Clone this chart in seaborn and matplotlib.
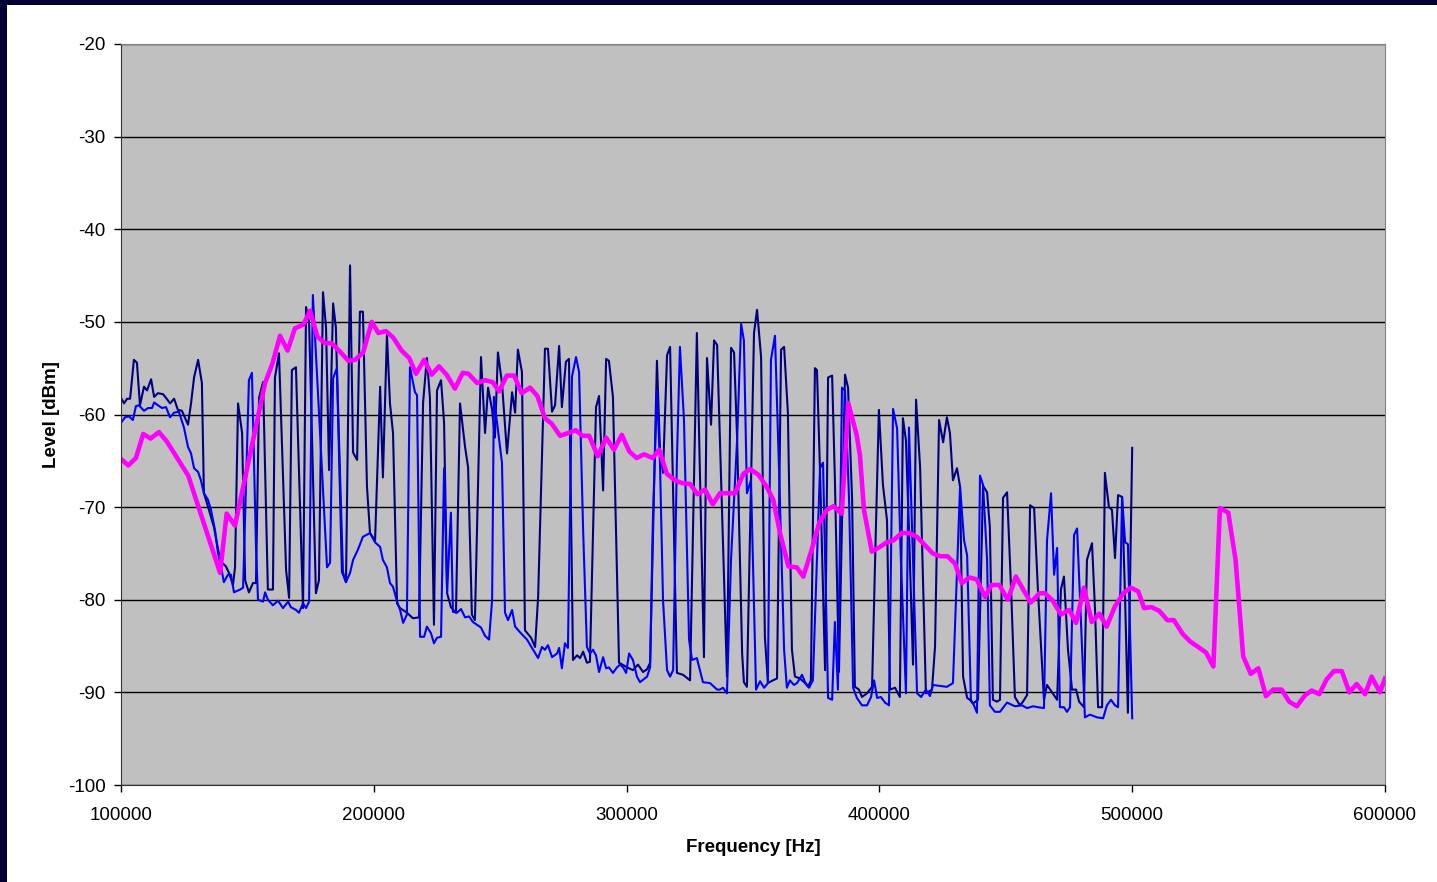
import pandas as pd
import matplotlib.pyplot as plt
import seaborn as sns
from matplotlib.patches import Rectangle

# navy trace
freq_a = [100000, 101200, 102400, 103600, 105100, 106300, 107500, 109100, 110300, 111900,
          113100, 114600, 116600, 117800, 119400, 121000, 122500, 124100, 126500, 127700,
          128900, 130500, 132000, 132800, 134800, 136800, 138400, 139600, 141500, 142700,
          144300, 145100, 146300, 147900, 149100, 150600, 152200, 153400, 154600, 156200,
          158100, 160100, 160900, 162500, 165300, 166500, 167600, 169200, 172000, 173200,
          174400, 177100, 178300, 179900, 181100, 182300, 183900, 185000, 187400, 189000,
          190600, 191800, 193400, 194500, 195700, 197300, 198500, 200500, 202500, 203600,
          205200, 206400, 207600, 209200, 210400, 213100, 215500, 217900, 219500, 221000,
          222200, 223800, 225000, 226600, 227800, 229000, 230500, 232500, 234100, 236100,
          237300, 238800, 240000, 242400, 244000, 245200, 246800, 247900, 249100, 250700,
          252700, 254700, 255900, 257000, 258600, 259800, 262200, 263800, 265000, 267700,
          268900, 270500, 271700, 273300, 274400, 276000, 277200, 278800, 280400, 281600,
          282800, 284300, 285500, 287900, 289100, 290700, 291900, 293000, 294600, 297000,
          300200, 302500, 304500, 306500, 308100, 309300, 312000, 313200, 314400, 316000,
          317200, 319900, 322300, 325100, 327800, 330600, 331800, 333400, 334600, 335800,
          339700, 341300, 342500, 343700, 345700, 346400, 347600, 350400, 351600, 353200,
          354700, 355900, 357900, 359500, 361100, 362300, 363800, 365400, 366600, 368600,
          370600, 371800, 372900, 374500, 375300, 376500, 378500, 379700, 381300, 382400,
          384000, 386400, 387600, 389200, 390300, 391900, 393100, 395100, 397100, 398300,
          399800, 401400, 403000, 404200, 406200, 408100, 409300, 410500, 411700, 413300,
          414500, 416100, 418400, 420800, 422000, 423600, 425200, 426700, 427900, 429100,
          430700, 431900, 433100, 434700, 435800, 437000, 439000, 441000, 442600, 443700,
          444900, 446500, 447700, 448900, 450500, 452100, 453600, 455600, 456800, 458400,
          459600, 461200, 462700, 465100, 466300, 468300, 470300, 471800, 473000, 474600,
          476200, 477800, 479000, 480900, 482100, 484100, 485300, 486500, 488100, 489200,
          490800, 492000, 493200, 494400, 496000, 497200, 498300, 500000]
level_a = [-58.2, -58.8, -58.3, -58.3, -54.1, -54.4, -59.0, -57.0, -57.4, -56.2,
           -58.1, -57.7, -57.8, -58.2, -58.8, -58.3, -59.5, -59.6, -61.1, -58.8,
           -56.0, -54.1, -56.6, -68.5, -70.3, -72.2, -74.6, -75.9, -76.4, -77.1,
           -78.4, -76.5, -58.8, -62.0, -77.9, -79.2, -78.2, -78.2, -58.2, -56.5,
           -78.9, -78.9, -56.0, -53.4, -76.8, -79.8, -55.2, -54.9, -80.9, -48.4,
           -50.0, -79.3, -77.9, -46.8, -50.6, -66.0, -48.0, -50.6, -77.0, -78.1,
           -43.9, -64.1, -64.9, -48.9, -48.9, -67.8, -72.8, -73.6, -57.0, -66.8,
           -51.4, -58.8, -62.0, -80.4, -80.9, -81.4, -82.0, -81.9, -58.7, -53.9,
           -58.2, -82.7, -57.4, -56.3, -60.9, -79.3, -80.8, -81.4, -58.8, -63.5,
           -65.7, -81.6, -82.2, -53.8, -62.0, -57.1, -59.5, -62.5, -53.3, -56.6,
           -64.2, -57.6, -59.8, -53.0, -55.4, -83.3, -84.1, -85.1, -79.7, -52.9,
           -52.9, -59.7, -59.0, -52.6, -59.2, -54.3, -54.0, -86.5, -86.0, -86.3,
           -85.6, -86.8, -86.7, -59.2, -58.0, -68.2, -54.0, -54.2, -58.1, -86.8,
           -87.3, -87.6, -87.0, -87.8, -87.5, -86.8, -54.2, -63.8, -66.3, -53.6,
           -52.7, -87.9, -88.1, -88.7, -51.2, -86.2, -53.9, -61.1, -52.0, -52.5,
           -88.3, -52.8, -53.3, -62.4, -85.8, -88.9, -89.4, -51.2, -48.7, -53.8,
           -84.0, -89.0, -88.7, -88.5, -53.0, -52.7, -59.8, -85.4, -88.3, -88.5,
           -89.0, -89.4, -88.7, -55.0, -55.2, -66.0, -87.6, -56.0, -55.8, -67.1,
           -87.8, -55.7, -57.1, -69.2, -89.4, -89.7, -90.5, -90.1, -89.4, -75.7,
           -59.5, -67.6, -71.4, -89.7, -89.5, -90.5, -60.4, -62.8, -72.5, -87.0,
           -58.4, -65.7, -90.1, -89.7, -85.1, -60.6, -63.0, -60.3, -62.0, -67.1,
           -65.8, -67.8, -88.3, -90.6, -90.8, -91.2, -90.8, -67.7, -68.4, -72.2,
           -90.8, -91.0, -90.8, -69.0, -68.4, -78.9, -90.5, -91.4, -91.0, -90.3,
           -69.8, -70.1, -78.9, -90.8, -89.2, -90.0, -90.8, -78.9, -77.5, -85.4,
           -89.7, -89.7, -91.0, -91.6, -75.7, -73.9, -81.1, -91.6, -91.6, -66.3,
           -70.0, -70.3, -75.5, -68.7, -68.9, -80.0, -92.2, -63.6]

# blue trace
freq_b = [100000, 101600, 103200, 104700, 105900, 107100, 109100, 110700, 112300, 113100,
          114600, 116200, 117800, 119400, 121000, 122900, 124900, 126500, 127700, 128900,
          130500, 131600, 132800, 134400, 135600, 137200, 138400, 139600, 140700, 142300,
          143500, 144700, 147100, 148300, 150600, 151800, 153400, 154200, 156200, 157000,
          158100, 160100, 162100, 164100, 166100, 167200, 169200, 170400, 172000, 173200,
          174400, 175900, 181500, 182700, 183900, 185400, 187800, 189000, 190600, 191800,
          193700, 195700, 198500, 200500, 202500, 203600, 205200, 206400, 207600, 209200,
          210400, 211600, 213100, 214300, 216300, 217100, 218300, 219900, 221000, 222600,
          223800, 225000, 226600, 227800, 229000, 230500, 231300, 232900, 234500, 236100,
          237700, 239200, 240800, 242400, 244000, 245600, 246800, 247500, 250700, 251900,
          253100, 254700, 255900, 257800, 260600, 263000, 265000, 266500, 267700, 268900,
          270500, 272500, 273300, 274400, 275600, 276800, 278400, 280000, 281200, 282800,
          284300, 285500, 286700, 287900, 289100, 290700, 291900, 293000, 294600, 296200,
          297400, 298600, 299800, 301000, 302500, 304100, 305300, 308100, 309300, 310400,
          312000, 313200, 314400, 316000, 317200, 318400, 319900, 321100, 322700, 324700,
          325900, 327800, 330200, 333000, 335800, 336900, 338100, 339700, 341300, 343700,
          345300, 346400, 347600, 349200, 351200, 352800, 354400, 355900, 357100, 358700,
          360300, 362300, 363400, 364600, 366200, 367400, 369400, 370600, 372200, 373700,
          375300, 376500, 377700, 379700, 381300, 382400, 383600, 385200, 386400, 388000,
          389600, 391100, 393100, 395100, 396700, 397900, 399100, 400600, 402200, 403800,
          405400, 407000, 408500, 410500, 411700, 413300, 414900, 416500, 418400, 420000,
          421200, 424000, 426700, 429100, 431900, 433500, 434700, 436200, 437400, 438600,
          439800, 441000, 442600, 443700, 445700, 447700, 450500, 453600, 456400, 458400,
          460800, 462700, 465100, 466300, 467900, 469100, 470300, 471400, 473000, 474200,
          475400, 477000, 478200, 479700, 481300, 483300, 486100, 488500, 490000, 491600,
          493200, 494400, 496000, 497200, 498300, 500000]
level_b = [-60.9, -60.3, -60.2, -60.6, -59.1, -59.0, -59.6, -59.3, -59.3, -58.7,
           -59.0, -59.3, -59.2, -60.3, -59.8, -59.7, -61.4, -63.5, -64.2, -65.8,
           -66.2, -67.1, -68.5, -69.2, -70.3, -72.5, -75.0, -76.5, -78.1, -77.3,
           -77.3, -79.2, -78.9, -78.7, -56.3, -55.5, -74.3, -80.0, -80.2, -79.2,
           -80.0, -80.6, -80.1, -80.9, -80.2, -80.8, -81.1, -81.4, -80.4, -80.9,
           -80.2, -47.1, -76.5, -76.0, -56.1, -55.0, -77.0, -78.1, -77.1, -75.7,
           -74.6, -73.2, -72.8, -73.8, -74.3, -75.7, -76.5, -78.2, -78.6, -80.2,
           -81.1, -82.5, -81.6, -54.9, -57.6, -57.9, -84.0, -84.0, -82.9, -83.6,
           -84.7, -84.1, -84.0, -65.8, -79.2, -70.6, -81.3, -81.4, -81.0, -81.9,
           -81.8, -82.4, -82.7, -83.0, -83.9, -84.3, -80.0, -58.1, -65.2, -81.4,
           -82.2, -81.1, -82.9, -83.5, -84.3, -85.4, -86.3, -85.1, -85.4, -84.9,
           -86.2, -85.8, -85.2, -87.4, -84.7, -85.2, -55.9, -53.8, -55.4, -72.5,
           -85.1, -85.8, -85.4, -86.0, -87.8, -86.2, -87.4, -87.3, -87.9, -87.3,
           -87.0, -87.3, -87.9, -85.8, -86.5, -88.3, -88.9, -88.3, -87.3, -71.4,
           -57.4, -65.2, -80.0, -87.6, -88.3, -87.6, -64.9, -52.7, -60.6, -84.3,
           -86.5, -86.3, -88.9, -89.0, -89.7, -89.7, -89.5, -90.1, -75.7, -62.8,
           -50.2, -52.0, -68.5, -67.1, -89.7, -88.8, -89.5, -89.0, -54.1, -51.5,
           -66.0, -85.4, -89.5, -88.7, -89.2, -89.0, -88.1, -88.9, -89.5, -88.7,
           -75.7, -65.8, -65.2, -90.6, -90.8, -82.4, -89.7, -57.1, -57.4, -69.2,
           -89.5, -90.6, -91.4, -91.4, -90.5, -88.7, -90.6, -90.5, -91.1, -91.4,
           -59.4, -61.5, -75.7, -90.1, -61.4, -75.7, -90.1, -90.5, -89.7, -90.4,
           -89.2, -89.3, -89.4, -89.0, -67.8, -73.6, -75.2, -90.8, -91.4, -92.2,
           -66.6, -67.6, -75.7, -91.4, -92.1, -92.1, -91.1, -91.5, -91.4, -91.7,
           -91.5, -91.6, -91.7, -73.6, -68.5, -77.3, -74.4, -91.6, -91.6, -92.1,
           -91.6, -73.0, -72.3, -82.2, -92.7, -92.4, -92.7, -92.8, -91.4, -90.8,
           -91.4, -91.6, -68.9, -73.8, -74.0, -92.8]

# magenta trace
freq_c = [100000, 102900, 105900, 108800, 111700, 115000, 118100, 126600, 139200, 141800,
          145100, 157000, 159900, 162900, 165900, 168800, 172100, 174800, 177700, 180700,
          183300, 186600, 189900, 192600, 195800, 199200, 201800, 204800, 207700, 211000,
          214000, 216700, 219900, 222900, 225800, 228800, 232100, 235200, 237400, 240900,
          244000, 247000, 249600, 252600, 255500, 258500, 261800, 264700, 267700, 270400,
          273700, 276900, 279900, 282600, 285200, 288600, 291900, 295000, 298100, 301100,
          304000, 306900, 310300, 312900, 315900, 319100, 321800, 325100, 328000, 331000,
          334100, 336900, 340200, 342900, 346200, 348800, 352100, 355400, 358000, 360700,
          364000, 367300, 369900, 373200, 376200, 379200, 381800, 385100, 387700, 391000,
          392300, 393900, 397000, 400200, 402900, 405500, 408800, 411800, 414800, 418000,
          421100, 424000, 426900, 429900, 432600, 435600, 438500, 441800, 444400, 447400,
          450800, 454000, 456900, 459900, 463300, 465500, 468600, 471800, 475100, 477800,
          480900, 484000, 487000, 489900, 493200, 496500, 499400, 502400, 504700, 507700,
          510700, 513900, 516500, 520000, 522900, 526100, 529200, 532100, 534700, 538000,
          540900, 543900, 546900, 549900, 552900, 555800, 559100, 562100, 565100, 568400,
          571000, 574000, 576900, 579800, 582900, 585900, 588800, 592100, 594700, 598000,
          600000]
level_c = [-64.8, -65.5, -64.7, -62.1, -62.6, -61.9, -62.9, -66.6, -77.1, -70.7,
           -72.0, -56.6, -54.5, -51.5, -53.1, -50.7, -50.3, -48.8, -51.6, -52.3,
           -52.3, -53.2, -54.2, -54.1, -53.3, -50.0, -51.2, -51.0, -51.7, -53.1,
           -53.9, -55.6, -54.1, -55.7, -54.8, -55.7, -57.2, -55.5, -55.6, -56.6,
           -56.3, -56.5, -57.5, -55.8, -55.8, -57.7, -57.1, -58.0, -60.4, -61.0,
           -62.3, -62.0, -61.7, -62.3, -62.3, -64.5, -62.5, -63.8, -62.2, -64.0,
           -64.7, -64.3, -64.7, -63.8, -66.4, -67.1, -67.4, -67.5, -68.6, -68.1,
           -69.7, -68.5, -68.5, -68.5, -66.4, -65.9, -66.5, -67.8, -69.2, -72.8,
           -76.4, -76.5, -77.5, -74.6, -71.7, -70.3, -69.9, -70.7, -58.8, -62.2,
           -64.4, -70.3, -74.8, -74.3, -73.8, -73.6, -72.8, -72.8, -73.2, -74.1,
           -75.0, -75.3, -75.3, -76.1, -78.2, -77.6, -77.8, -79.7, -78.4, -78.4,
           -80.0, -77.5, -78.9, -80.3, -79.3, -79.3, -80.1, -81.6, -81.1, -82.5,
           -78.7, -82.4, -81.5, -82.9, -80.7, -79.3, -78.7, -79.1, -80.9, -80.8,
           -81.2, -82.2, -82.2, -83.7, -84.5, -85.1, -85.7, -87.2, -70.1, -70.6,
           -75.7, -86.1, -88.0, -87.4, -90.4, -89.7, -89.7, -91.0, -91.5, -90.3,
           -89.8, -90.2, -88.6, -87.7, -87.7, -90.0, -89.1, -90.2, -88.3, -90.0,
           -88.5]

x_ticks = [100000, 200000, 300000, 400000, 500000, 600000]
y_ticks = [-100, -90, -80, -70, -60, -50, -40, -30, -20]

plt.rcParams['font.family'] = ['Liberation Sans', 'DejaVu Sans']

fig = plt.figure(figsize=(14.37, 8.82), dpi=100)
fig.patch.set_facecolor('white')
# dark frame strips on the left and top edges
fig.patches.append(Rectangle((0, 0), 7 / 1437, 1, transform=fig.transFigure,
                             facecolor='#000033', edgecolor='none', zorder=0))
fig.patches.append(Rectangle((0, 1 - 5 / 882), 1, 5 / 882, transform=fig.transFigure,
                             facecolor='#000033', edgecolor='none', zorder=0))

ax = fig.add_axes([121 / 1437, 1 - 785 / 882, 1264 / 1437, 741 / 882])
ax.set_facecolor('#C0C0C0')

series = [
    (freq_a, level_a, '#000080', 1.5),
    (freq_b, level_b, '#0000FF', 1.5),
    (freq_c, level_c, '#FF00FF', 3.3),
]
for freq, level, color, lw in series:
    df = pd.DataFrame({'freq': freq, 'level': level})
    sns.lineplot(data=df, x='freq', y='level', sort=False, estimator=None,
                 color=color, linewidth=lw, ax=ax, solid_joinstyle='round')

ax.set_xlim(100000, 600000)
ax.set_ylim(-100, -20)
ax.set_xticks(x_ticks)
ax.set_yticks(y_ticks)
ax.set_xticklabels([str(t) for t in x_ticks])
ax.set_yticklabels([str(t) for t in y_ticks])
ax.yaxis.grid(True, color='black', linewidth=1)
ax.set_axisbelow(True)

for side in ['top', 'right']:
    ax.spines[side].set_color('#808080')
for side in ['left', 'bottom']:
    ax.spines[side].set_color('#333333')
ax.tick_params(axis='both', direction='out', length=5, width=1, labelsize=13.5,
               colors='black')
ax.tick_params(axis='x', pad=11)
ax.tick_params(axis='y', pad=6)

ax.set_xlabel('Frequency [Hz]', fontsize=13.5, fontweight='bold', labelpad=11)
ax.set_ylabel('Level [dBm]', fontsize=13.5, fontweight='bold', labelpad=6)

fig.savefig('out.png', dpi=100)
